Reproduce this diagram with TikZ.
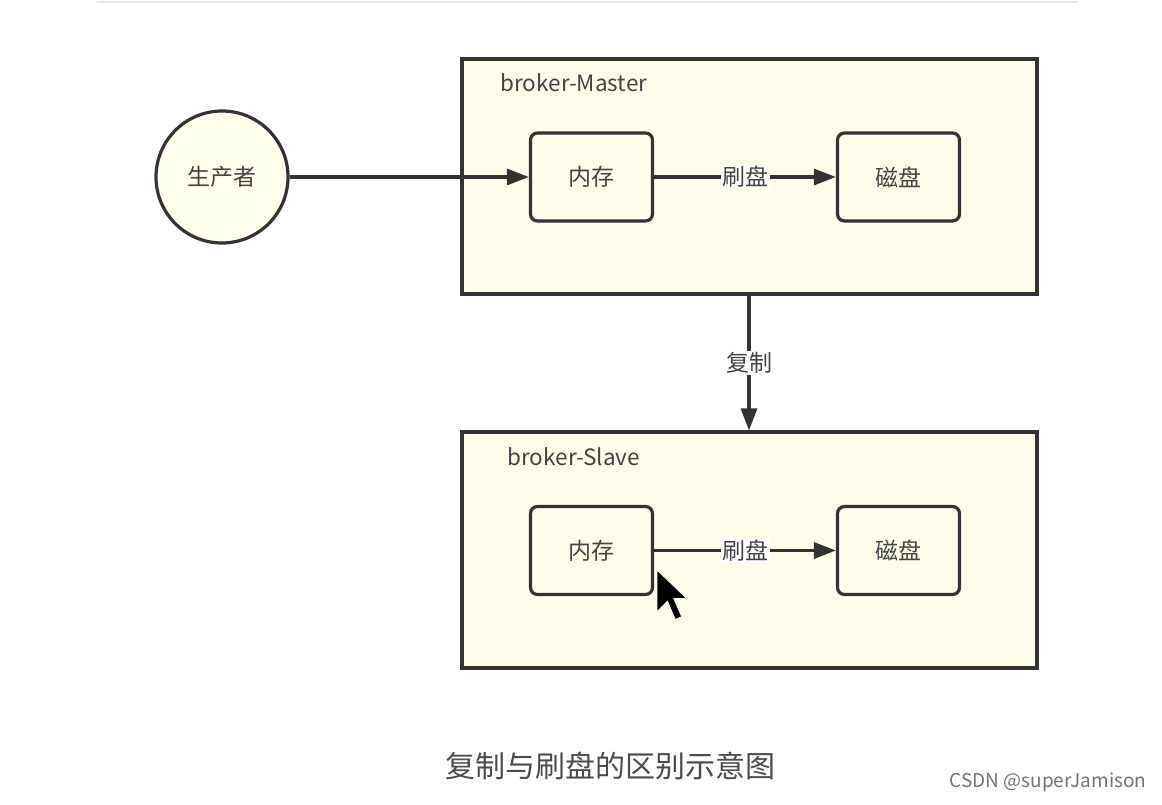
\documentclass[tikz,border=0pt]{standalone}
\usepackage{fontspec}
\setmainfont{Noto Sans CJK SC}
\usetikzlibrary{arrows.meta}
\definecolor{ln}{HTML}{333333}
\definecolor{tx}{HTML}{444444}
\definecolor{cfill}{HTML}{FFFFEB}
\definecolor{bfill}{HTML}{FDFDEA}
\tikzset{
  outer/.style={draw=ln, line width=3.2pt, fill=bfill},
  inner/.style={draw=ln, line width=3.2pt, rounded corners=7pt, fill=bfill, minimum width=122pt, minimum height=88pt, inner sep=0pt, font=\fontsize{23}{27}\selectfont, text=tx},
  conn/.style={draw=ln, line width=3.2pt, -{Triangle[length=22pt,width=16pt]}},
  lbl/.style={fill=white, inner sep=1.5pt, text=tx, font=\fontsize{23}{27}\selectfont},
  title/.style={anchor=west, text=tx, font=\fontsize{22.5}{27}\selectfont},
}
\begin{document}
\begin{tikzpicture}[x=1pt,y=-1pt]
\useasboundingbox (0,0) rectangle (1162,804);
\fill[white] (0,0) rectangle (1162,804);
\draw[color=black!8, line width=1.5pt] (97,2) -- (1078,2);
% master
\node[outer, minimum width=575pt, minimum height=235pt, inner sep=0pt] (master) at (749.5,176.5) {};
\node[title] (mt) at (497,83) {broker-Master};
\node[inner] (mm) at (591.5,177) {内存};
\node[inner] (md) at (898.5,177) {磁盘};
% slave
\node[outer, minimum width=575pt, minimum height=236pt, inner sep=0pt] (slave) at (749.5,550) {};
\node[title] (st) at (504,457) {broker-Slave};
\node[inner] (sm) at (591.5,550.5) {内存};
\node[inner] (sd) at (898.5,550.5) {磁盘};
% producer
\node[circle, draw=ln, line width=3.2pt, fill=cfill, minimum size=132pt, inner sep=0pt, text=tx, font=\fontsize{23}{27}\selectfont] (p) at (222,177) {生产者};
% connectors
\draw[conn] (p) -- (mm);
\draw[conn] (mm) -- node[lbl] {刷盘} (md);
\draw[conn] (sm) -- node[lbl] {刷盘} (sd);
\draw[conn] (master.south -| 749,0) -- node[lbl] {复制} (slave.north -| 749,0);
% caption
\node[text=black!70, font=\fontsize{30}{36}\selectfont] (cap) at (610,766) {复制与刷盘的区别示意图};
\node[text=black!55, font=\fontsize{19}{22}\selectfont] (wm) at (1048,782) {CSDN @superJamison};
% cursor
\fill[black, draw=white, line width=0.8pt, shift={(657,570)}, scale=2.6, x=1pt, y=-1pt]
  (0,0) -- (0,16) -- (4,12) -- (7,19) -- (9.5,18) -- (6.5,11) -- (11.5,11) -- cycle;
\end{tikzpicture}
\end{document}
